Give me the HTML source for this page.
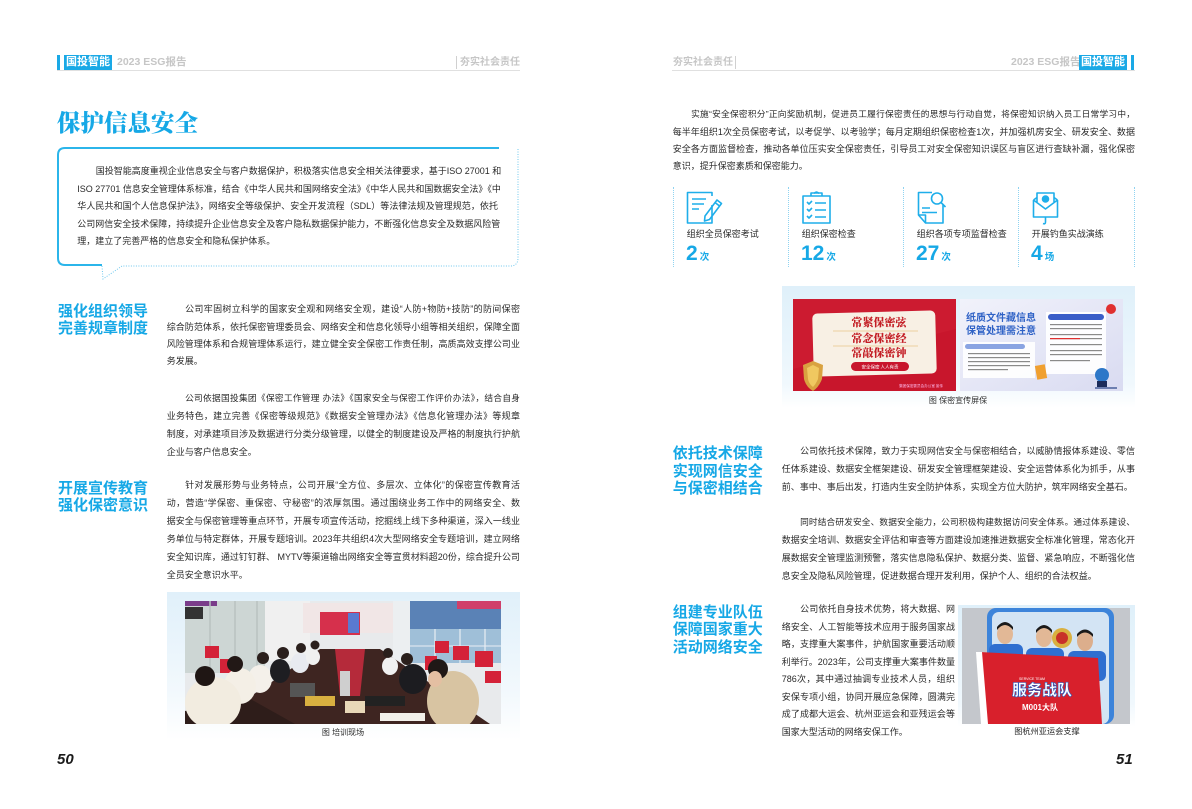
<!DOCTYPE html>
<html><head><meta charset="utf-8">
<style>
*{margin:0;padding:0;box-sizing:border-box}
html,body{width:1192px;height:809px;overflow:hidden;background:#fff}
body{position:relative;font-family:"Liberation Sans","Noto Sans CJK SC",sans-serif;color:#333}
.a{position:absolute}
.p{position:absolute;font-size:9px;color:#2a2a2a}
.p>div{height:var(--lh);line-height:var(--lh);white-space:nowrap;text-align:justify;text-align-last:justify}
.p>div.e{text-align-last:left}
.p>div.i{padding-left:18.4px}
.p>div.s{font-size:8.7px}
.h{position:absolute;font-size:15px;font-weight:700;color:#16a8e6;white-space:nowrap;font-family:"Liberation Sans","Noto Sans CJK SC",sans-serif}
.hd{position:absolute;font-size:10.5px;font-weight:700;color:#c6c6c6;line-height:15px;white-space:nowrap}
.tag{position:absolute;background:#1aa9e6;color:#fff;font-size:11px;font-weight:700;line-height:15px;height:15px;text-align:center}
.lbl{position:absolute;font-size:9px;color:#2a2a2a;line-height:12px;white-space:nowrap}
.num{position:absolute;font-size:21px;font-weight:700;color:#16a8e6;line-height:22px;white-space:nowrap;font-family:"Liberation Sans","Noto Sans CJK SC",sans-serif}
.num small{font-size:9.5px;font-weight:700;margin-left:2px}
.cap{position:absolute;font-size:8px;color:#2a2a2a;line-height:10px;white-space:nowrap;text-align:center}
.pg{position:absolute;font-size:15px;font-weight:700;font-style:italic;color:#1a1a1a;line-height:15px}
.vd{position:absolute;top:187px;height:80px;width:0;border-left:1px dotted #8fd3f1}
</style></head><body>

<!-- LEFT HEADER -->
<div class="a" style="left:57px;top:55px;width:3px;height:15px;background:#1aa9e6"></div>
<div class="tag" style="left:64px;top:55px;width:48px">国投智能</div>
<div class="hd" style="left:117px;top:55px">2023 ESG报告</div>
<div class="a" style="left:456px;top:56px;width:1px;height:13px;background:#d0d0d0"></div>
<div class="hd" style="left:460px;top:55px;font-size:10px">夯实社会责任</div>
<div class="a" style="left:57px;top:70px;width:463px;height:1px;background:#e0e0e0"></div>

<!-- RIGHT HEADER -->
<div class="hd" style="left:673px;top:55px;font-size:10px">夯实社会责任</div>
<div class="a" style="left:735px;top:56px;width:1px;height:13px;background:#d0d0d0"></div>
<div class="a" style="left:672px;top:70px;width:463px;height:1px;background:#e0e0e0"></div>
<div class="hd" style="left:1011px;top:55px">2023 ESG报告</div>
<div class="tag" style="left:1079px;top:55px;width:48px">国投智能</div>
<div class="a" style="left:1131px;top:55px;width:3px;height:15px;background:#1aa9e6"></div>

<!-- TITLE -->
<div class="a" style="left:57px;top:106px;font-size:23.5px;line-height:30px;font-weight:900;color:#16a8e6;font-family:'Noto Serif CJK SC','Noto Sans CJK SC',serif;white-space:nowrap">保护信息安全</div>

<!-- INTRO BUBBLE -->
<svg class="a" style="left:0;top:0" width="600" height="300" viewBox="0 0 600 300">
<path d="M499 148 L65 148 Q58 148 58 155 L58 258 Q58 265 65 265 L102 265" fill="none" stroke="#2bb5ea" stroke-width="2"/>
<path d="M518 149 L518 258 Q518 266 510 266 L122 266" fill="none" stroke="#6fc8ee" stroke-width="1" stroke-dasharray="1 1.5"/>
<path d="M102 266 L103 279 L122 266" fill="none" stroke="#6fc8ee" stroke-width="1" stroke-dasharray="1 1.5"/>
</svg>
<div class="p" style="left:77.3px;top:163px;width:420.7px;--lh:17.5px">
<div class="i">国投智能高度重视企业信息安全与客户数据保护，积极落实信息安全相关法律要求，基于ISO 27001 和</div>
<div>ISO 27701 信息安全管理体系标准，结合《中华人民共和国网络安全法》《中华人民共和国数据安全法》《中</div>
<div>华人民共和国个人信息保护法》，网络安全等级保护、安全开发流程（SDL）等法律法规及管理规范，依托</div>
<div>公司网信安全技术保障，持续提升企业信息安全及客户隐私数据保护能力，不断强化信息安全及数据风险管</div>
<div class="e">理，建立了完善严格的信息安全和隐私保护体系。</div>
</div>

<!-- LEFT SECTION 1 -->
<div class="h" style="left:58px;top:304px;line-height:16.5px">强化组织领导<br>完善规章制度</div>
<div class="p" style="left:166.7px;top:301.3px;width:353.3px;--lh:17.4px">
<div class="i">公司牢固树立科学的国家安全观和网络安全观，建设“人防+物防+技防”的防间保密</div>
<div>综合防范体系，依托保密管理委员会、网络安全和信息化领导小组等相关组织，保障全面</div>
<div>风险管理体系和合规管理体系运行，建立健全安全保密工作责任制，高质高效支撑公司业</div>
<div class="e">务发展。</div>
</div>
<div class="p" style="left:166.7px;top:389.3px;width:353.3px;--lh:18px">
<div class="i s">公司依据国投集团《保密工作管理 办法》《国家安全与保密工作评价办法》，结合自身</div>
<div>业务特色，建立完善《保密等级规范》《数据安全管理办法》《信息化管理办法》等规章</div>
<div>制度，对承建项目涉及数据进行分类分级管理，以健全的制度建设及严格的制度执行护航</div>
<div class="e">企业与客户信息安全。</div>
</div>

<!-- LEFT SECTION 2 -->
<div class="h" style="left:58px;top:481.4px;line-height:16.6px">开展宣传教育<br>强化保密意识</div>
<div class="p" style="left:166.7px;top:476px;width:353.3px;--lh:18px">
<div class="i">针对发展形势与业务特点，公司开展“全方位、多层次、立体化”的保密宣传教育活</div>
<div>动，营造“学保密、重保密、守秘密”的浓厚氛围。通过围绕业务工作中的网络安全、数</div>
<div>据安全与保密管理等重点环节，开展专项宣传活动，挖掘线上线下多种渠道，深入一线业</div>
<div>务单位与特定群体，开展专题培训。2023年共组织4次大型网络安全专题培训，建立网络</div>
<div>安全知识库，通过钉钉群、 MYTV等渠道输出网络安全等宣贯材料超20份，综合提升公司</div>
<div class="e">全员安全意识水平。</div>
</div>

<!-- LEFT PHOTO -->
<div class="a" style="left:167px;top:592px;width:353px;height:148px;background:linear-gradient(#e0f0fa,#f3f9fd 70%,#fff)"></div>
<svg class="a" style="left:185px;top:601px" width="316" height="123" viewBox="0 0 316 123">
<rect width="316" height="123" fill="#e8eaec"/>
<rect x="0" y="0" width="80" height="72" fill="#cdd6d4"/>
<rect x="0" y="0" width="32" height="5" fill="#7a3c8a"/>
<rect x="0" y="6" width="18" height="12" fill="#333"/>
<line x1="25" y1="0" x2="25" y2="70" stroke="#b8c2c0" stroke-width="1.5"/>
<line x1="50" y1="0" x2="50" y2="70" stroke="#b8c2c0" stroke-width="1.5"/>
<line x1="72" y1="0" x2="72" y2="70" stroke="#b8c2c0" stroke-width="1.5"/>
<rect x="80" y="0" width="45" height="60" fill="#f0f0f0"/>
<rect x="118" y="2" width="90" height="30" fill="#f1e6e6"/>
<rect x="135" y="11" width="40" height="23" fill="#d6304c"/>
<rect x="163" y="12" width="11" height="20" fill="#5a7ad0"/>
<rect x="208" y="0" width="17" height="60" fill="#eceff1"/>
<rect x="225" y="0" width="91" height="62" fill="#9fbfd8"/>
<rect x="225" y="0" width="91" height="28" fill="#5a82b6"/>
<rect x="272" y="0" width="44" height="8" fill="#d0406a"/>
<line x1="250" y1="28" x2="250" y2="62" stroke="#e8eef4" stroke-width="1.2"/>
<line x1="275" y1="28" x2="275" y2="62" stroke="#e8eef4" stroke-width="1.2"/>
<line x1="300" y1="28" x2="300" y2="62" stroke="#e8eef4" stroke-width="1.2"/>
<line x1="225" y1="45" x2="316" y2="45" stroke="#e8eef4" stroke-width="1"/>
<g fill="#d42238">
<rect x="250" y="40" width="14" height="12"/><rect x="268" y="45" width="16" height="14"/><rect x="290" y="50" width="18" height="16"/><rect x="300" y="70" width="16" height="12"/><rect x="240" y="55" width="12" height="14"/>
<rect x="20" y="45" width="14" height="12"/><rect x="35" y="58" width="12" height="14"/>
</g>
<polygon points="25,123 135,48 195,48 305,123" fill="#3e2521"/>
<polygon points="150,48 180,48 175,95 155,95" fill="#b52a3a"/>
<polygon points="0,123 0,110 60,95 110,123" fill="#2e1d1a"/>
<rect x="180" y="95" width="40" height="10" fill="#222"/>
<rect x="195" y="112" width="45" height="8" fill="#f2f0ea"/>
<rect x="245" y="105" width="35" height="8" fill="#f4f2ee"/>
<rect x="105" y="82" width="25" height="14" fill="#555"/>
<rect x="120" y="95" width="30" height="10" fill="#d8b040"/>
<rect x="160" y="100" width="20" height="12" fill="#e8d8b8"/>
<rect x="155" y="70" width="10" height="25" fill="#cfcfcf"/>
<!-- left people -->
<ellipse cx="75" cy="78" rx="12" ry="14" fill="#f4f0ea"/><circle cx="78" cy="57" r="6" fill="#2a1f1c"/>
<ellipse cx="95" cy="70" rx="10" ry="12" fill="#1e1e22"/><circle cx="98" cy="52" r="6" fill="#2a1f1c"/>
<ellipse cx="115" cy="62" rx="9" ry="10" fill="#e8eaf0"/><circle cx="116" cy="47" r="5" fill="#2a1f1c"/>
<ellipse cx="128" cy="56" rx="7" ry="8" fill="#f0f0f0"/><circle cx="130" cy="44" r="4.5" fill="#2a1f1c"/>
<ellipse cx="55" cy="85" rx="16" ry="18" fill="#f4efe6"/><circle cx="50" cy="63" r="8" fill="#221816"/>
<ellipse cx="28" cy="102" rx="28" ry="26" fill="#f2ece0"/><circle cx="20" cy="75" r="10" fill="#1f1614"/>
<!-- right people -->
<ellipse cx="205" cy="65" rx="8" ry="9" fill="#f0f0f0"/><circle cx="203" cy="52" r="5" fill="#2a1f1c"/>
<ellipse cx="228" cy="78" rx="14" ry="15" fill="#1c1c20"/><circle cx="222" cy="58" r="6" fill="#2a1f1c"/>
<ellipse cx="268" cy="100" rx="26" ry="30" fill="#d8c4a2"/><circle cx="253" cy="68" r="10" fill="#1f1816"/><ellipse cx="250" cy="78" rx="7" ry="8" fill="#e4bfa2"/>
</svg>
<div class="cap" style="left:303px;top:728px;width:80px">图 培训现场</div>

<!-- RIGHT TOP PARAGRAPH -->
<div class="p" style="left:672.7px;top:106.4px;width:462.3px;--lh:17.2px">
<div class="i s">实施“安全保密积分”正向奖励机制，促进员工履行保密责任的思想与行动自觉，将保密知识纳入员工日常学习中，</div>
<div>每半年组织1次全员保密考试，以考促学、以考验学；每月定期组织保密检查1次，并加强机房安全、研发安全、数据</div>
<div>安全各方面监督检查，推动各单位压实安全保密责任，引导员工对安全保密知识误区与盲区进行查缺补漏，强化保密</div>
<div class="e">意识，提升保密素质和保密能力。</div>
</div>

<!-- STATS -->
<div class="vd" style="left:672.5px"></div>
<div class="vd" style="left:788px"></div>
<div class="vd" style="left:903px"></div>
<div class="vd" style="left:1018px"></div>
<div class="vd" style="left:1134px"></div>

<svg class="a" style="left:686px;top:191px" width="38" height="34" viewBox="0 0 38 34" fill="none" stroke="#1eaeea" stroke-width="1.6" stroke-linejoin="round">
<path d="M26 14 V32 H1.5 V1.5 H26 V5"/>
<path d="M6 8 H20 M6 13 H18 M6 18 H13"/>
<path d="M19 25 L31 9 L35.5 12.5 L23.5 28.5 L18.5 30 Z M29 11.5 L33.5 15"/>
</svg>
<svg class="a" style="left:801.7px;top:191px" width="30" height="34" viewBox="0 0 30 34" fill="none" stroke="#1eaeea" stroke-width="1.6" stroke-linejoin="round">
<rect x="1" y="5" width="27" height="27"/>
<path d="M9 5 V2 H20 V5" />
<path d="M12 2.5 Q14.5 -0.5 17 2.5"/>
<path d="M5 11 l2 2 l3 -3 M13 12 H24 M5 18 l2 2 l3 -3 M13 19 H24 M5 25 l2 2 l3 -3 M13 26 H24"/>
</svg>
<svg class="a" style="left:916.7px;top:191px" width="30" height="34" viewBox="0 0 30 34" fill="none" stroke="#1eaeea" stroke-width="1.6" stroke-linejoin="round">
<path d="M15 1.5 H1.5 V24 L8.5 32 H26 V14"/>
<path d="M1.5 24 H8.5 V32"/>
<circle cx="20" cy="7.5" r="5.5"/>
<path d="M24 11.5 L28.5 16"/>
<path d="M5 17 H13 M5 21.5 H20"/>
</svg>
<svg class="a" style="left:1031.7px;top:191px" width="30" height="34" viewBox="0 0 30 34" fill="none" stroke="#1eaeea" stroke-width="1.6" stroke-linejoin="round">
<path d="M5 11 V2 H22 V11"/>
<path d="M1.5 9 L5 6.5 M22 6.5 L25.5 9 M1.5 9 V26 H25.5 V9 M1.5 9 L13.5 18 L25.5 9"/>
<circle cx="13.5" cy="8" r="3" fill="#1eaeea"/>
<path d="M13.5 26 V31 Q13.5 33.5 11 32.5"/>
</svg>

<div class="lbl" style="left:686.7px;top:228px">组织全员保密考试</div>
<div class="lbl" style="left:801.7px;top:228px">组织保密检查</div>
<div class="lbl" style="left:916.7px;top:228px">组织各项专项监督检查</div>
<div class="lbl" style="left:1031.7px;top:228px">开展钓鱼实战演练</div>
<div class="num" style="left:686px;top:243px">2<small>次</small></div>
<div class="num" style="left:801px;top:243px">12<small>次</small></div>
<div class="num" style="left:916px;top:243px">27<small>次</small></div>
<div class="num" style="left:1031px;top:243px">4<small>场</small></div>

<!-- POSTERS -->
<div class="a" style="left:782px;top:286px;width:353px;height:122px;background:linear-gradient(#dff0fa,#f0f8fd 80%,#fff)"></div>
<svg class="a" style="left:793px;top:299px" width="163" height="92" viewBox="0 0 163 92">
<rect width="163" height="92" fill="#c8162c"/>
<polygon points="0,0 163,0 163,30 0,70" fill="#cf1f33" opacity=".5"/>
<rect x="20" y="13" width="123" height="63" rx="5" fill="#f8f0e4" transform="rotate(-1.5 81 45)"/>
<line x1="40" y1="32" x2="125" y2="32" stroke="#e8c68a" stroke-width=".8"/>
<line x1="40" y1="47" x2="125" y2="47" stroke="#e8c68a" stroke-width=".8"/>
<text x="86" y="27" text-anchor="middle" font-size="11" font-weight="900" fill="#c31d24" font-family="Noto Serif CJK SC,serif">常紧保密弦</text>
<text x="86" y="43" text-anchor="middle" font-size="11" font-weight="900" fill="#c31d24" font-family="Noto Serif CJK SC,serif">常念保密经</text>
<text x="86" y="57.5" text-anchor="middle" font-size="11" font-weight="900" fill="#c31d24" font-family="Noto Serif CJK SC,serif">常敲保密钟</text>
<rect x="58" y="63" width="58" height="9" rx="4.5" fill="#c8162c"/>
<text x="87" y="69.5" text-anchor="middle" font-size="4.5" fill="#fff" font-family="Noto Sans CJK SC,sans-serif">安全保密 人人有责</text>
<path d="M10 66 L20 62 L30 66 L29 80 Q26 88 20 92 Q13 88 11 80 Z" fill="#d9a240"/>
<path d="M14 69 L20 66 L26 69 L25 80 Q23 85 20 88 Q16 85 15 80 Z" fill="#f0c860"/>
<text x="150" y="88" text-anchor="end" font-size="3.6" fill="#fbe" font-family="Noto Sans CJK SC,sans-serif">集团保密委员会办公室 宣传</text>
</svg>
<svg class="a" style="left:960px;top:299px" width="163" height="92" viewBox="0 0 163 92">
<defs><linearGradient id="pg" x1="0" y1="0" x2="1" y2="1"><stop offset="0" stop-color="#f1f2fb"/><stop offset="1" stop-color="#d9dbf1"/></linearGradient></defs>
<rect width="163" height="92" fill="url(#pg)"/>
<text x="6" y="22" font-size="10" font-weight="700" fill="#2f62c6" font-family="Noto Sans CJK SC,sans-serif">纸质文件藏信息</text>
<text x="6" y="35" font-size="10" font-weight="700" fill="#2f62c6" font-family="Noto Sans CJK SC,sans-serif">保管处理需注意</text>
<rect x="3" y="43" width="72" height="36" fill="#fff" opacity=".9"/>
<rect x="5" y="45" width="60" height="5" rx="2.5" fill="#8aa4e2"/>
<g fill="#8a8a8a"><rect x="8" y="54" width="62" height="1.2"/><rect x="8" y="58" width="62" height="1.2"/><rect x="8" y="62" width="62" height="1.2"/><rect x="8" y="66" width="62" height="1.2"/><rect x="8" y="70" width="40" height="1.2"/></g>
<rect x="86" y="13" width="60" height="62" fill="#fff" opacity=".92"/>
<rect x="88" y="15" width="56" height="6" rx="3" fill="#3a5ec8"/>
<g fill="#8a8a8a"><rect x="90" y="25" width="52" height="1.2"/><rect x="90" y="29" width="52" height="1.2"/><rect x="90" y="35" width="52" height="1.2"/><rect x="90" y="39" width="52" height="1.2"/><rect x="90" y="45" width="52" height="1.2"/><rect x="90" y="51" width="52" height="1.2"/><rect x="90" y="55" width="52" height="1.2"/><rect x="90" y="61" width="40" height="1.2"/></g>
<rect x="90" y="39" width="30" height="1.2" fill="#e03030"/>
<circle cx="151" cy="10" r="5" fill="#e03030"/>
<rect x="76" y="66" width="10" height="14" fill="#f0a030" transform="rotate(-10 81 73)"/>
<circle cx="142" cy="76" r="7" fill="#2e78c8"/>
<rect x="137" y="82" width="10" height="8" fill="#1c2c5a"/>
<rect x="135" y="88" width="22" height="2" fill="#6d7fb0"/>
</svg>
<div class="cap" style="left:908px;top:395.7px;width:100px">图 保密宣传屏保</div>

<!-- RIGHT SECTION 1 -->
<div class="h" style="left:672.7px;top:445.2px;line-height:17.5px">依托技术保障<br>实现网信安全<br>与保密相结合</div>
<div class="p" style="left:781.7px;top:441.9px;width:353.3px;--lh:18.2px">
<div class="i">公司依托技术保障，致力于实现网信安全与保密相结合，以威胁情报体系建设、零信</div>
<div>任体系建设、数据安全框架建设、研发安全管理框架建设、安全运营体系化为抓手，从事</div>
<div class="e">前、事中、事后出发，打造内生安全防护体系，实现全方位大防护，筑牢网络安全基石。</div>
</div>
<div class="p" style="left:781.7px;top:512.7px;width:353.3px;--lh:18px">
<div class="i s">同时结合研发安全、数据安全能力，公司积极构建数据访问安全体系。通过体系建设、</div>
<div>数据安全培训、数据安全评估和审查等方面建设加速推进数据安全标准化管理，常态化开</div>
<div>展数据安全管理监测预警，落实信息隐私保护、数据分类、监督、紧急响应，不断强化信</div>
<div class="e">息安全及隐私风险管理，促进数据合理开发利用，保护个人、组织的合法权益。</div>
</div>

<!-- RIGHT SECTION 2 -->
<div class="h" style="left:672.7px;top:603.6px;line-height:17.8px">组建专业队伍<br>保障国家重大<br>活动网络安全</div>
<div class="p" style="left:781.7px;top:601.3px;width:173.3px;--lh:17.5px">
<div class="i">公司依托自身技术优势，将大数据、网</div>
<div>络安全、人工智能等技术应用于服务国家战</div>
<div>略，支撑重大案事件，护航国家重要活动顺</div>
<div>利举行。2023年，公司支撑重大案事件数量</div>
<div>786次，其中通过抽调专业技术人员，组织</div>
<div>安保专项小组，协同开展应急保障，圆满完</div>
<div>成了成都大运会、杭州亚运会和亚残运会等</div>
<div class="e">国家大型活动的网络安保工作。</div>
</div>

<div class="a" style="left:957.7px;top:605px;width:177.3px;height:122px;background:linear-gradient(#dff0fa,#f0f8fd 80%,#fff)"></div>
<svg class="a" style="left:962px;top:608px" width="168" height="116" viewBox="0 0 168 116">
<rect width="168" height="116" fill="#c4c7cc"/>
<rect x="25" y="0" width="127" height="116" rx="9" fill="#3d84da"/>
<rect x="30" y="4" width="117" height="112" rx="7" fill="#d3e4f4"/>
<circle cx="100" cy="30" r="10" fill="#d9b040"/>
<circle cx="100" cy="30" r="6" fill="#c83028"/>
<rect x="27" y="36" width="34" height="30" rx="6" fill="#2f6fd0"/>
<rect x="64" y="40" width="38" height="30" rx="6" fill="#2f6fd0"/>
<rect x="106" y="43" width="38" height="30" rx="6" fill="#2f6fd0"/>
<ellipse cx="43" cy="26" rx="8" ry="10" fill="#e2b896"/><path d="M35 22 Q43 12 51 22 L51 19 Q43 9 35 19Z" fill="#1a1a1a"/>
<ellipse cx="82" cy="29" rx="8" ry="10" fill="#e2b896"/><path d="M74 25 Q82 15 90 25 L90 22 Q82 12 74 22Z" fill="#1a1a1a"/>
<ellipse cx="123" cy="33" rx="8" ry="10" fill="#dcae8c"/><path d="M115 29 Q123 20 131 29 L131 26 Q123 17 115 26Z" fill="#1a1a1a"/>
<polygon points="17,44 136,50 140,116 22,116" fill="#d8202c"/>
<polygon points="14,44 20,44 26,116 19,116" fill="#fff"/>
<text x="80" y="87" text-anchor="middle" font-size="15" font-weight="900" fill="#fff" stroke="#2c5fc0" stroke-width=".6" font-family="Noto Sans CJK SC,sans-serif">服务战队</text>
<text x="78" y="102" text-anchor="middle" font-size="8" font-weight="700" fill="#fff" font-family="Liberation Sans,Noto Sans CJK SC,sans-serif">M001大队</text>
<text x="70" y="72" text-anchor="middle" font-size="3.5" fill="#fff" font-family="Liberation Sans,sans-serif">SERVICE TEAM</text>
</svg>
<div class="cap" style="left:1005px;top:727.3px;width:84px;font-size:8.2px">图杭州亚运会支撑</div>

<!-- PAGE NUMBERS -->
<div class="pg" style="left:57px;top:752px">50</div>
<div class="pg" style="left:1116px;top:752px">51</div>

</body></html>
